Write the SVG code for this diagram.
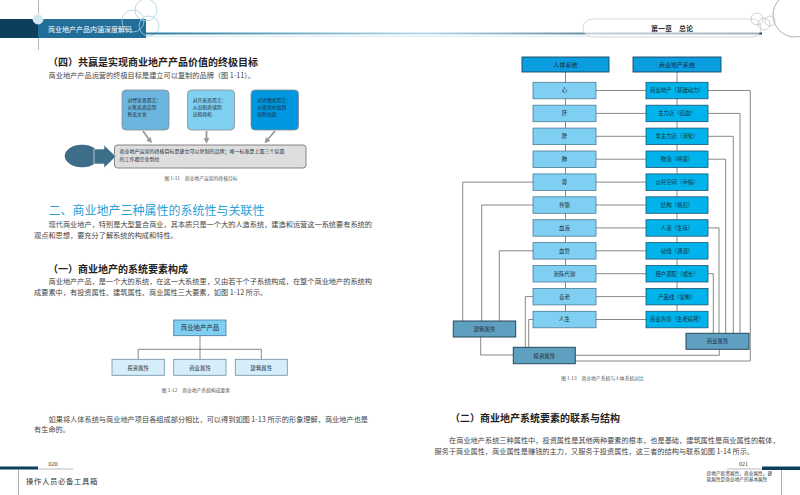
<svg xmlns="http://www.w3.org/2000/svg" width="800" height="495" viewBox="0 0 800 495">
<defs>
<linearGradient id="hl" x1="146" y1="0" x2="762" y2="0" gradientUnits="userSpaceOnUse">
<stop offset="0" stop-color="#2b7d9f"/><stop offset="0.45" stop-color="#b9dcea"/><stop offset="1" stop-color="#163f5a"/>
</linearGradient>
<marker id="ga" viewBox="0 0 10 10" refX="6" refY="5" markerWidth="3.2" markerHeight="3.2" orient="auto"><path d="M0,0 L10,5 L0,10 Z" fill="#9a9a9a"/></marker>
<style>
text{font-family:"Noto Sans CJK SC","Liberation Sans",sans-serif;}
.body{font-size:7.2px;fill:#444;}
.h2{font-size:10px;font-weight:bold;fill:#222;}
.cap{font-size:4.8px;fill:#555;}
.bx{font-size:4.8px;fill:#1c2b38;}
.lb{font-size:5.4px;fill:#1c2b38;text-anchor:middle;}
.lc{fill:#7fcff2;stroke:#4b7c96;stroke-width:0.8;}
.rc{fill:#00b3ea;stroke:#1b5574;stroke-width:0.8;}
.hd{fill:#0a9de0;stroke:#1c445e;stroke-width:0.9;}
.at{fill:#5f9fc0;stroke:#27495c;stroke-width:1;}
.cn{fill:none;stroke:#6a6a6a;stroke-width:0.8;}
.deco{fill:none;stroke:#a9cfe0;stroke-width:0.8;}
</style>
</defs>
<rect width="800" height="495" fill="#ffffff"/>

<!-- header left -->
<g id="header-left">
<line x1="38.5" y1="0" x2="38.5" y2="50" stroke="#888" stroke-width="0.6"/>
<rect x="0" y="19" width="38" height="19" fill="#0d3f5c"/>
<rect x="38" y="19" width="108" height="19" fill="#216e98"/>
<text x="48" y="31.5" style="font-size:7px;fill:#ffffff;">商业地产产品内涵深度解码</text>
<circle cx="38" cy="19" r="5" fill="#cfe8f4" stroke="#ffffff" stroke-width="0.8"/>
<circle class="deco" cx="146" cy="10" r="11"/>
<circle class="deco" cx="133" cy="21" r="11"/>
<circle class="deco" cx="149" cy="26" r="10"/>
</g>
<g id="header-line">
<line x1="146" y1="33.5" x2="762" y2="33.5" stroke="url(#hl)" stroke-width="2"/>
<line x1="146" y1="36.5" x2="762" y2="36.5" stroke="#cfe6f0" stroke-width="0.8"/>
</g>
<g id="header-right">
<rect x="583" y="19" width="178" height="18" rx="9" fill="#ffffff" fill-opacity="0.6" stroke="#cccccc" stroke-width="0.7"/>
<text x="672" y="31" text-anchor="middle" style="font-size:7px;fill:#333;font-weight:bold;">第一章　总论</text>
<circle cx="795" cy="15" r="22" fill="none" stroke="#9a9a9a" stroke-width="0.8"/>
<circle cx="757" cy="19" r="6" fill="none" stroke="#bbbbbb" stroke-width="0.7"/>
<circle cx="764" cy="24" r="6" fill="none" stroke="#bbbbbb" stroke-width="0.7"/>
<circle cx="770" cy="21" r="5" fill="none" stroke="#bbbbbb" stroke-width="0.7"/>
</g>

<!-- left page text -->
<text class="h2" x="48" y="66">（四）共赢是实现商业地产产品价值的终极目标</text>
<text class="body" x="48.5" y="78">商业地产产品运营的终极目标是建立可以复制的品牌（图 1-11）。</text>

<!-- figure 1-11 -->
<g id="fig111-box1">
<rect x="122" y="90" width="47" height="40" rx="4" fill="#6cb5df" stroke="#8a8a8a" stroke-width="0.8"/>
<text class="bx" x="127.5" y="102">对经营者而言：</text>
<text class="bx" x="127.5" y="109">从售卖商品到</text>
<text class="bx" x="127.5" y="116">售卖文化</text>
</g>
<g id="fig111-box2">
<rect x="187.5" y="90" width="47" height="40" rx="4" fill="#80d0f2" stroke="#8a8a8a" stroke-width="0.8"/>
<text class="bx" x="192.7" y="102">对开发商而言：</text>
<text class="bx" x="192.7" y="109">从出租商铺到</text>
<text class="bx" x="192.7" y="116">出租商机</text>
</g>
<g id="fig111-box3">
<rect x="251" y="90" width="47.5" height="40" rx="4" fill="#0096e0" stroke="#8a8a8a" stroke-width="0.8"/>
<text class="bx" x="257.3" y="102">对消费者而言：</text>
<text class="bx" x="257.3" y="109">从使用价值到</text>
<text class="bx" x="257.3" y="116">高附加值</text>
</g>
<g id="fig111-goal">
<rect x="114.5" y="145" width="191.5" height="23" rx="3" fill="#dedede" stroke="#777" stroke-width="0.9"/>
<text class="bx" x="119.5" y="153.3" style="font-size:5px">商业地产运营的终极目标是建立可以复制的品牌；唯一标准是上面三个层面</text>
<text class="bx" x="119.5" y="161" style="font-size:5px">的工作都完全到位</text>
</g>
<g id="fig111-start">
<ellipse cx="82" cy="156" rx="17" ry="11" fill="#3d6e89" stroke="#2b5670" stroke-width="0.6"/>
<polygon points="94,149 104,149 104,145 116,156.5 104,168 104,164 94,164" fill="#3d6e89" stroke="#e8eef2" stroke-width="0.7"/>
</g>
<g id="fig111-connectors">
<line x1="143" y1="131" x2="150.5" y2="141.5" stroke="#9a9a9a" stroke-width="1.8" marker-end="url(#ga)"/>
<line x1="206.5" y1="131" x2="206.5" y2="141.5" stroke="#9a9a9a" stroke-width="1.8" marker-end="url(#ga)"/>
<line x1="275" y1="131" x2="266" y2="141.5" stroke="#9a9a9a" stroke-width="1.8" marker-end="url(#ga)"/>
</g>
<text class="cap" x="201" y="179.5" text-anchor="middle">图 1-11　商业地产运营的终极目标</text>

<text x="48.5" y="214.5" style="font-size:12px;fill:#2a9fd6;">二、商业地产三种属性的系统性与关联性</text>
<text class="body" x="48.5" y="227">现代商业地产，特别是大型复合商业，其本质只是一个大的人造系统，建造和运营这一系统要有系统的</text>
<text class="body" x="34" y="238">观点和思想，要充分了解系统的构成和特性。</text>

<text class="h2" x="48" y="273">（一）商业地产的系统要素构成</text>
<text class="body" x="48.5" y="283.5">商业地产产品，是一个大的系统，在这一大系统里，又由若干个子系统构成，在整个商业地产的系统构</text>
<text class="body" x="34" y="294.5">成要素中，有投资属性、建筑属性、商业属性三大要素，如图 1-12 所示。</text>

<!-- figure 1-12 -->
<g id="fig112-connectors">
<path class="cn" d="M200,336 V349.3 M138.2,359.3 V349.3 H261.3 V359.3 M200,349.3 V359.3"/>
</g>
<g id="fig112-top">
<rect x="173.7" y="320" width="52.3" height="15.7" fill="#7fcff2" stroke="#4a7a9a" stroke-width="0.8"/>
<text x="200" y="330.3" text-anchor="middle" style="font-size:6.4px;fill:#1c2b38;">商业地产产品</text>
</g>
<g id="fig112-invest">
<rect x="112" y="359.3" width="52.3" height="16" fill="#d6eefa" stroke="#6a8fa5" stroke-width="0.8"/>
<text class="lb" x="138.2" y="369.5">投资属性</text>
</g>
<g id="fig112-commerce">
<rect x="173.7" y="359.3" width="52.3" height="16" fill="#d6eefa" stroke="#6a8fa5" stroke-width="0.8"/>
<text class="lb" x="200" y="369.5">商业属性</text>
</g>
<g id="fig112-building">
<rect x="235.3" y="359.3" width="52" height="16" fill="#d6eefa" stroke="#6a8fa5" stroke-width="0.8"/>
<text class="lb" x="261.3" y="369.5">建筑属性</text>
</g>
<text class="cap" x="196" y="392.2" text-anchor="middle">图 1-12　商业地产系统构成要素</text>

<text class="body" x="48.5" y="421.5">如果将人体系统与商业地产项目各组成部分相比，可以得到如图 1-13 所示的形象理解，商业地产也是</text>
<text class="body" x="34" y="432">有生命的。</text>

<!-- footer left -->
<g id="footer-left">
<rect x="0" y="466.5" width="38" height="3" fill="#0d3f5c"/>
<line x1="38" y1="469" x2="73" y2="469" stroke="#777" stroke-width="0.5"/>
<text x="53" y="466" text-anchor="middle" style="font-size:6px;fill:#333;font-family:'Liberation Serif',serif;">020</text>
<line x1="18.5" y1="470" x2="18.5" y2="495" stroke="#777" stroke-width="0.6"/>
<text x="26" y="483.5" style="font-size:7.4px;fill:#333;letter-spacing:0.6px;">操作人员必备工具箱</text>
</g>

<!-- figure 1-13 connectors -->
<g id="fig113-connectors">
<path class="cn" d="M565.5,72 V311 M677,72 V311"/>
<path class="cn" d="M596,90.5 H646 M596,113.4 H646 M596,136.3 H646 M596,159.2 H646 M596,182.1 H646 M596,205 H646 M596,227.9 H646 M596,250.8 H646 M596,273.7 H646 M596,296.6 H646 M596,319.5 H646"/>
<path class="cn" d="M533,182.1 H462.7 V321 M533,205 H481.7 V321 M533,250.8 H499.3 V321 M480.7,337 V355 H513 M533,296.6 H525.3 V347.3 M533,319.5 H528.7 V347.3"/>
<path class="cn" d="M708,90.5 H750.3 V361 H575 M708,113.4 H740 V333.3 M708,136.3 H733.3 V333.3 M708,159.2 H725.7 V333.3 M708,227.9 H719 V333.3 M708,273.7 H713.3 V333.3 M719.3,349.3 V355.3 H575"/>
</g>
<g id="n-human"><rect class="hd" x="522" y="57" width="87" height="15"/><text class="lb" x="565.5" y="66.8" style="font-size:6px">人体系统</text></g>
<g id="n-cre"><rect class="hd" x="633" y="57" width="88" height="15"/><text class="lb" x="677" y="66.8" style="font-size:6px">商业地产系统</text></g>

<g id="n-l0"><rect class="lc" x="533" y="82.3" width="63" height="16.5"/><text class="lb" x="564.5" y="92.4">心</text></g>
<g id="n-l1"><rect class="lc" x="533" y="105.2" width="63" height="16.5"/><text class="lb" x="564.5" y="115.3">肝</text></g>
<g id="n-l2"><rect class="lc" x="533" y="128.1" width="63" height="16.5"/><text class="lb" x="564.5" y="138.2">脾</text></g>
<g id="n-l3"><rect class="lc" x="533" y="151" width="63" height="16.5"/><text class="lb" x="564.5" y="161.1">肺</text></g>
<g id="n-l4"><rect class="lc" x="533" y="173.9" width="63" height="16.5"/><text class="lb" x="564.5" y="184">肾</text></g>
<g id="n-l5"><rect class="lc" x="533" y="196.8" width="63" height="16.5"/><text class="lb" x="564.5" y="206.9">骨骼</text></g>
<g id="n-l6"><rect class="lc" x="533" y="219.7" width="63" height="16.5"/><text class="lb" x="564.5" y="229.8">血液</text></g>
<g id="n-l7"><rect class="lc" x="533" y="242.6" width="63" height="16.5"/><text class="lb" x="564.5" y="252.7">血管</text></g>
<g id="n-l8"><rect class="lc" x="533" y="265.5" width="63" height="16.5"/><text class="lb" x="564.5" y="275.6">新陈代谢</text></g>
<g id="n-l9"><rect class="lc" x="533" y="288.4" width="63" height="16.5"/><text class="lb" x="564.5" y="298.5">衰老</text></g>
<g id="n-l10"><rect class="lc" x="533" y="311.3" width="63" height="16.5"/><text class="lb" x="564.5" y="321.4">人生</text></g>

<g id="n-r0"><rect class="rc" x="646" y="82.3" width="62" height="16.5"/><text class="lb" x="677" y="92.4">商业地产（基础动力）</text></g>
<g id="n-r1"><rect class="rc" x="646" y="105.2" width="62" height="16.5"/><text class="lb" x="677" y="115.3">主力店（造血）</text></g>
<g id="n-r2"><rect class="rc" x="646" y="128.1" width="62" height="16.5"/><text class="lb" x="677" y="138.2">非主力店（消化）</text></g>
<g id="n-r3"><rect class="rc" x="646" y="151" width="62" height="16.5"/><text class="lb" x="677" y="161.1">物流（呼吸）</text></g>
<g id="n-r4"><rect class="rc" x="646" y="173.9" width="62" height="16.5"/><text class="lb" x="677" y="184">公共空间（幸福）</text></g>
<g id="n-r5"><rect class="rc" x="646" y="196.8" width="62" height="16.5"/><text class="lb" x="677" y="206.9">结构（格局）</text></g>
<g id="n-r6"><rect class="rc" x="646" y="219.7" width="62" height="16.5"/><text class="lb" x="677" y="229.8">人流（生存）</text></g>
<g id="n-r7"><rect class="rc" x="646" y="242.6" width="62" height="16.5"/><text class="lb" x="677" y="252.7">动线（通道）</text></g>
<g id="n-r8"><rect class="rc" x="646" y="265.5" width="62" height="16.5"/><text class="lb" x="677" y="275.6">租户调配（成长）</text></g>
<g id="n-r9"><rect class="rc" x="646" y="288.4" width="62" height="16.5"/><text class="lb" x="677" y="298.5">产品线（复制）</text></g>
<g id="n-r10"><rect class="rc" x="646" y="311.3" width="62" height="16.5"/><text class="lb" x="677" y="321.4">商业寿命（生老病死）</text></g>

<g id="n-building"><rect class="at" x="453.3" y="321" width="62.4" height="16"/><text class="lb" x="484.5" y="331">建筑属性</text></g>
<g id="n-invest"><rect class="at" x="513.3" y="347.3" width="62" height="16.4"/><text class="lb" x="544.3" y="357.5">投资属性</text></g>
<g id="n-commerce"><rect class="at" x="686" y="333.3" width="63" height="16"/><text class="lb" x="717.5" y="343.3">商业属性</text></g>

<text class="cap" x="602.5" y="380" text-anchor="middle">图 1-13　商业地产系统与人体系统对比</text>

<text class="h2" x="450" y="422">（二）商业地产系统要素的联系与结构</text>
<text class="body" x="449" y="443">在商业地产系统三种属性中，投资属性是其他两种要素的根本，也是基础，建筑属性是商业属性的载体，</text>
<text class="body" x="434.5" y="453.5">服务于商业属性，商业属性是赚钱的主力，又服务于投资属性，这三者的结构与联系如图 1-14 所示。</text>

<!-- footer right -->
<g id="footer-right">
<text x="743.5" y="466" text-anchor="middle" style="font-size:6px;fill:#333;font-family:'Liberation Serif',serif;">021</text>
<line x1="727" y1="469" x2="762" y2="469" stroke="#777" stroke-width="0.5"/>
<rect x="762" y="466.5" width="38" height="3.5" fill="#0d3f5c"/>
<line x1="781.5" y1="470" x2="781.5" y2="495" stroke="#777" stroke-width="0.6"/>
<text x="706.5" y="475" style="font-size:4.7px;fill:#333;">房地产投资属性，商业属性，建</text>
<text x="706.5" y="481" style="font-size:4.7px;fill:#333;">筑属性是商业地产的基本属性</text>
</g>
</svg>
